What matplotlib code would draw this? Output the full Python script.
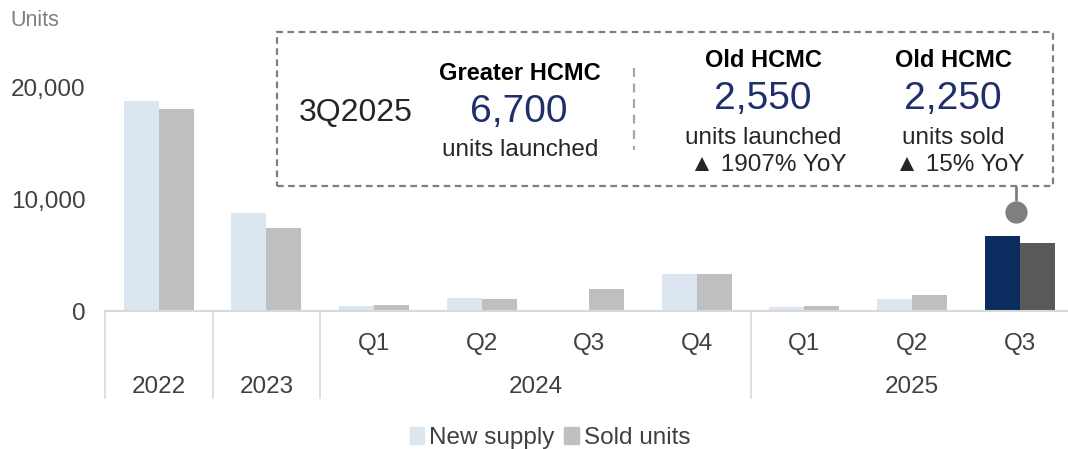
import matplotlib
matplotlib.use("Agg")
import matplotlib.pyplot as plt
from matplotlib.patches import Rectangle, Patch
from matplotlib.lines import Line2D
import numpy as np

### Data ###
quarters = ["", "", "Q1", "Q2", "Q3", "Q4", "Q1", "Q2", "Q3"]
years = ["2022", "2023", "2024", "2025"]
year_span = [(0, 0), (1, 1), (2, 5), (6, 8)]
new_supply = [18800, 8800, 450, 1150, 100, 3300, 350, 1050, 6700]
sold_units = [18100, 7400, 550, 1100, 1950, 3350, 450, 1400, 6100]

FAMILY = ["Liberation Sans", "DejaVu Sans"]
plt.rcParams["font.family"] = FAMILY

W, H = 1068, 449
LIGHT = "#DCE6F1"
GREY = "#BFBFBF"
NAVY = "#0B2C5E"
DARK = "#595959"
TXT = "#262626"


def px(x, y):
    # pixel position -> figure fraction
    return x / W, 1 - y / H


fig = plt.figure(figsize=(W / 100, H / 100), dpi=100)
ax = fig.add_axes([105 / W, (H - 311) / H, 1 - 105 / W, 279 / H])

x = np.arange(len(new_supply))
bw = 0.325
c_new = [LIGHT] * (len(x) - 1) + [NAVY]
c_sold = [GREY] * (len(x) - 1) + [DARK]
ax.bar(x - bw / 2, new_supply, bw, color=c_new)
ax.bar(x + bw / 2, sold_units, bw, color=c_sold)

ax.set_xlim(-0.5, -0.5 + (W - 105) / 107.6)
ax.set_ylim(0, 25000)
ax.set_yticks([0, 10000, 20000])
ax.set_yticklabels(["0", "10,000", "20,000"], fontsize=17.5, color="#404040")
ax.tick_params(axis="y", length=0, pad=14)
ax.set_xticks([])
for s in ["top", "right", "left"]:
    ax.spines[s].set_visible(False)
ax.spines["bottom"].set_color("#D9D9D9")
ax.spines["bottom"].set_linewidth(1.5)

# multi level category axis
tr = ax.get_xaxis_transform()
for b in [-0.5, 0.5, 1.5, 5.5]:
    ax.plot([b, b], [0, -87 / 279], transform=tr, color="#D9D9D9", lw=1.2, clip_on=False)
for i, q in enumerate(quarters):
    ax.text(i, -39 / 279, q, transform=tr, ha="center", va="baseline", fontsize=17.5, color="#404040")
for name, (a, b) in zip(years, year_span):
    ax.text((a + b) / 2, -82 / 279, name, transform=tr, ha="center", va="baseline",
            fontsize=17.5, color="#404040")

fig.text(*px(10, 26), "Units", fontsize=15.5, color="#7F7F7F", va="baseline")

# connector to the highlighted bar
ax.plot([7.97, 7.97], [11200, 9900], color="#7F7F7F", lw=2, solid_capstyle="butt", clip_on=False)
ax.plot([7.97], [8880], marker="o", markersize=15, color="#7F7F7F", clip_on=False)

# call-out box
x0, y0 = px(277, 186)
fig.add_artist(Rectangle((x0, y0), 776 / W, 154 / H, transform=fig.transFigure, fill=False,
                         edgecolor="#7F7F7F", lw=1.6, linestyle=(0, (3, 2))))
fig.add_artist(Line2D([634 / W, 634 / W], [1 - 68 / H, 1 - 150 / H], transform=fig.transFigure,
                      color="#A6A6A6", lw=1.6, linestyle=(0, (4, 3))))


def t(xp, yp, s, size, color=TXT, bold=False):
    fig.text(*px(xp, yp), s, fontsize=size, color=color, ha="center", va="baseline",
             fontweight="bold" if bold else "normal", family=FAMILY)


t(356, 121, "3Q2025", 23)
t(520, 80, "Greater HCMC", 17, color="black", bold=True)
t(519, 122, "6,700", 28, color="#1F2F6B")
t(520, 156, "units launched", 17.5)
t(763, 67, "Old HCMC", 17, color="black", bold=True)
t(763, 109, "2,550", 28, color="#1F2F6B")
t(763, 144, "units launched", 17.5)
t(768, 171, "\u25B2 1907% YoY", 17.5)
t(953, 67, "Old HCMC", 17, color="black", bold=True)
t(953, 109, "2,250", 28, color="#1F2F6B")
t(953, 144, "units sold", 17.5)
t(960, 171, "\u25B2 15% YoY", 17.5)

handles = [Patch(color=LIGHT, label="New supply"), Patch(color=GREY, label="Sold units")]
fig.legend(handles=handles, loc="center", bbox_to_anchor=px(550, 438), ncol=2, frameon=False,
           fontsize=17.5, handlelength=0.6, handleheight=0.7, handletextpad=0.2,
           columnspacing=0.4, labelcolor="#404040")

fig.savefig("out.png", dpi=100)
